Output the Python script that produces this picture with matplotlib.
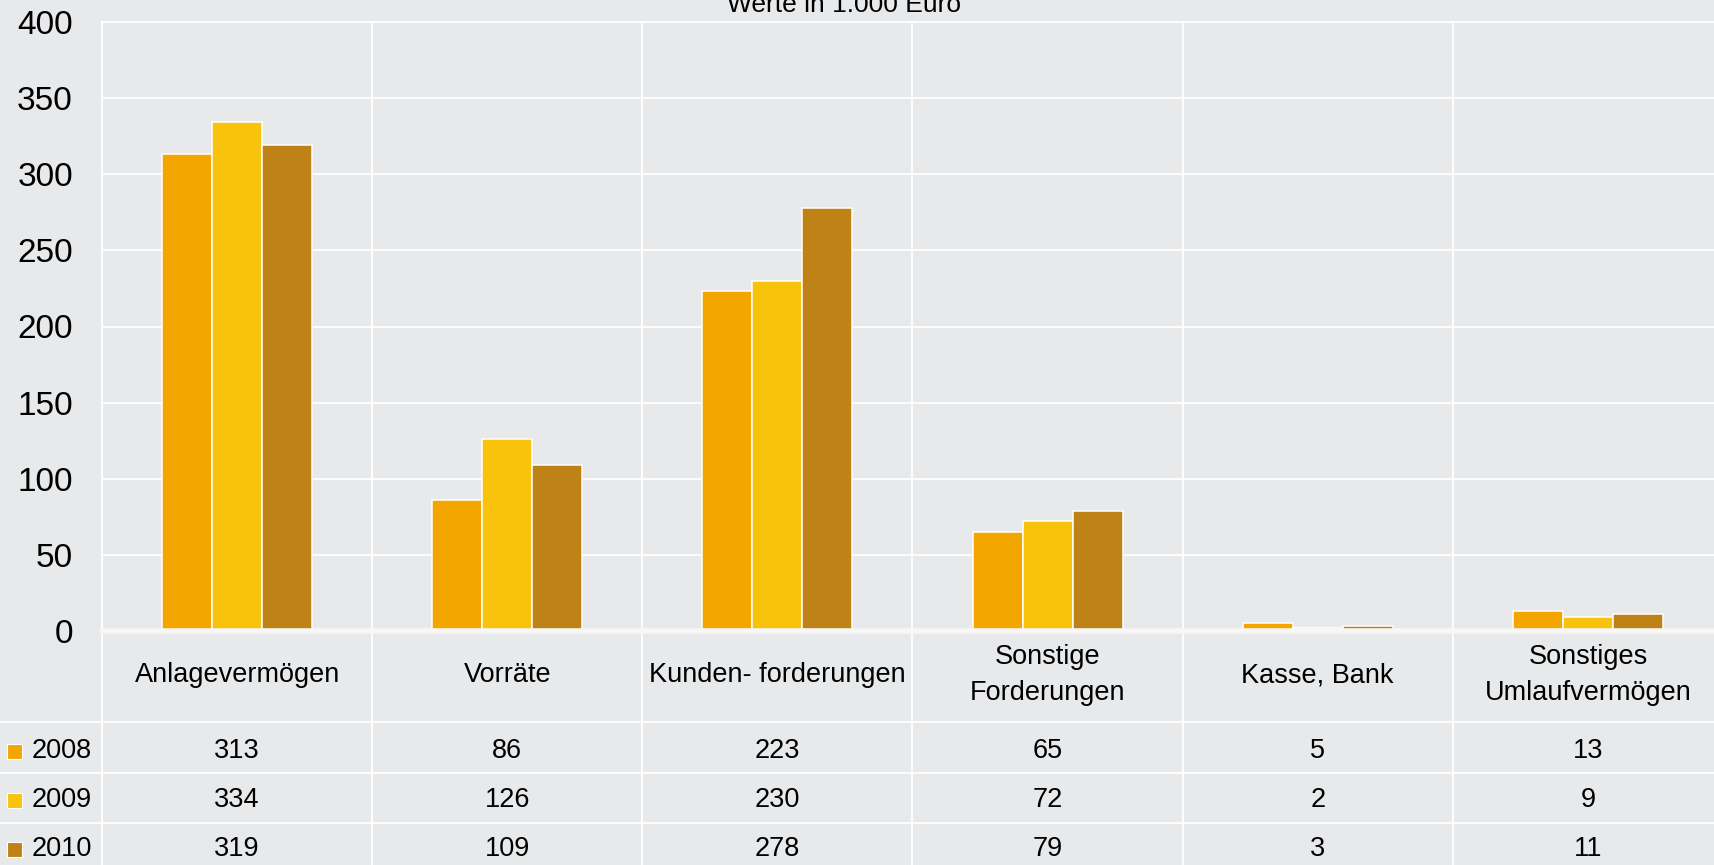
import numpy as np
import matplotlib
matplotlib.use("Agg")
import matplotlib.pyplot as plt
from matplotlib import transforms
from matplotlib.patches import Rectangle
from matplotlib.lines import Line2D

plt.rcParams['font.family'] = ['Liberation Sans', 'DejaVu Sans']

categories = ["Anlagevermögen", "Vorräte", "Kunden- forderungen",
              "Sonstige\nForderungen", "Kasse, Bank", "Sonstiges\nUmlaufvermögen"]
years = ["2008", "2009", "2010"]
values_2008 = [313, 86, 223, 65, 5, 13]
values_2009 = [334, 126, 230, 72, 2, 9]
values_2010 = [319, 109, 278, 79, 3, 11]
series = [values_2008, values_2009, values_2010]
colors = ["#F4A600", "#F9C20C", "#BF8216"]
yticks = [0, 50, 100, 150, 200, 250, 300, 350, 400]

W, H = 1714, 865
bg = "#E8E9EB"
fig = plt.figure(figsize=(W / 100, H / 100), dpi=100, facecolor=bg)

# plot area in pixels (it runs a little past the right edge)
left, right, top, bottom = 102, 1723, 22, 631
ax = fig.add_axes([left / W, 1 - bottom / H, (right - left) / W, (bottom - top) / H])
ax.set_facecolor(bg)

x = np.arange(len(categories))
bw = 0.185
for i, vals in enumerate(series):
    ax.bar(x + (i - 1) * bw, vals, bw, color=colors[i], edgecolor="white",
           linewidth=1.1, zorder=3)

ax.set_xlim(-0.5, len(categories) - 0.5)
ax.set_ylim(0, 400)
ax.set_yticks(yticks)
ax.set_yticklabels([str(t) for t in yticks], fontsize=24)
ax.tick_params(axis='y', length=0, pad=21)
ax.set_xticks([])
ax.yaxis.grid(True, color="white", linewidth=1.3, zorder=0)
ax.set_axisbelow(True)
for s in ["right", "bottom"]:
    ax.spines[s].set_visible(False)
for s in ["left", "top"]:
    ax.spines[s].set_color("white")
    ax.spines[s].set_linewidth(1.3)

# thick zero line
ax.axhline(0, color="#F7F7F7", linewidth=4, zorder=4, clip_on=False,
           solid_capstyle="round")

# vertical separators running down through the table
trans = transforms.blended_transform_factory(ax.transData, fig.transFigure)
for xv in np.arange(0.5, len(categories) - 0.5, 1):
    ax.add_line(Line2D([xv, xv], [0, 1 - top / H], transform=trans,
                       color="white", linewidth=1.3, zorder=1, clip_on=False))
ax.add_line(Line2D([-0.5, -0.5], [0, 1 - top / H], transform=trans,
                   color="white", linewidth=1.3, zorder=1, clip_on=False))

# horizontal table lines
for yp in [722, 773, 823]:
    fig.add_artist(Line2D([0, 1], [1 - yp / H, 1 - yp / H], transform=fig.transFigure,
                          color="white", linewidth=1.3))

# category labels
for xi, cat in zip(x, categories):
    ax.text(xi, 1 - 675 / H, cat, transform=trans, ha="center", va="center",
            fontsize=19.5, linespacing=1.45, clip_on=False)

# data rows with legend keys
row_y = [751, 800, 849]
for yr, vals, col, yp in zip(years, series, colors, row_y):
    fy = 1 - yp / H
    fig.add_artist(Rectangle((7 / W, fy - 8 / H), 15 / W, 15 / H, transform=fig.transFigure,
                             facecolor=col, edgecolor="white", linewidth=0.8))
    fig.text(32 / W, fy, yr, ha="left", va="center", fontsize=19.5)
    for xi, v in zip(x, vals):
        ax.text(xi, fy, str(v), transform=trans, ha="center", va="center",
                fontsize=19.5, clip_on=False)

fig.text(844 / W, 1 - 12 / H, "Werte in 1.000 Euro", ha="center", va="baseline",
         fontsize=19)

fig.savefig("out.png", dpi=100, facecolor=bg)
